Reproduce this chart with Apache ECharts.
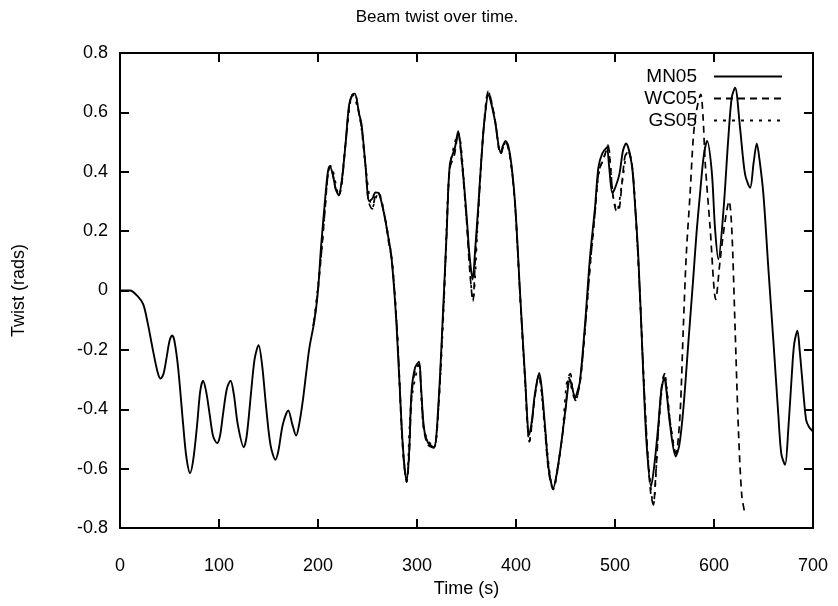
<!DOCTYPE html>
<html>
<head>
<meta charset="utf-8">
<script src="https://cdn.jsdelivr.net/npm/echarts@6/dist/echarts.min.js"></script>
<style>html,body{margin:0;padding:0;background:#fff}#c{width:838px;height:606px}</style>
</head>
<body>
<div id="c"></div>
<script>
// ---- data ----
const chartTitle = "Beam twist over time.";
const xName = "Time (s)";
const yName = "Twist (rads)";
const seriesNames = ["MN05", "WC05", "GS05"];

const mnTime = [0,10,18,23.5,28,33.5,38,41,44,47,50,52.7,55,58.7,63.8,67,70.8,74,77.9,81,83.9,87,90.6,94,98,101,104,108,111.7,115,119,125,128,132.5,136,140,143.5,147.7,152,157,160,164.4,170,174,177.9,181,184.6,188,191.3,196.3,200,203,207,210,212,215,218,220.8,224,228,231.5,235,237.2,241.6,244,248,251.7,255,258,260.8,264,267.5,271,274.3,279.3,284.4,287,289.5,292,294.5,298,302,304,307,311.3,317,321.4,326.5,330,333.2,338.3,341.6,345,350,353,356.2,359,361.8,366.3,369,372,375,378.8,384.5,387,389.5,393.9,398.9,404,409,413.4,416,419,423.5,426,429.2,433,437.6,441,446,450,454.5,457,459.6,462,464.6,469.7,474.7,479.8,483.2,487,491.6,494,497.3,500,504.4,508,511.1,516.9,520,523.6,528.6,532,536.4,540,543.8,547,549.9,552,555.6,561.3,565,569,574,579,582.5,586,589.5,593,597.7,601,604.4,609.5,614.5,617.9,621.3,626.3,631.4,636.5,640,643.2,646,649.9,655,660,665,668,671.8,675,678.6,681,684.3,686.5,688.7,693,696,700];
const mnTwist = [0,0,-0.02,-0.047,-0.11,-0.205,-0.275,-0.297,-0.28,-0.227,-0.17,-0.151,-0.17,-0.26,-0.452,-0.56,-0.615,-0.57,-0.452,-0.34,-0.304,-0.34,-0.418,-0.49,-0.514,-0.49,-0.418,-0.33,-0.304,-0.35,-0.452,-0.528,-0.49,-0.34,-0.23,-0.184,-0.25,-0.396,-0.52,-0.57,-0.54,-0.452,-0.404,-0.45,-0.489,-0.45,-0.373,-0.28,-0.193,-0.103,0,0.144,0.3,0.4,0.419,0.39,0.34,0.322,0.37,0.5,0.627,0.66,0.663,0.594,0.56,0.42,0.301,0.31,0.33,0.329,0.3,0.245,0.18,0.11,-0.115,-0.452,-0.58,-0.641,-0.55,-0.34,-0.26,-0.24,-0.32,-0.463,-0.514,-0.528,-0.396,-0.058,0.2,0.425,0.481,0.537,0.45,0.256,0.12,0.037,0.15,0.279,0.504,0.6,0.659,0.63,0.571,0.464,0.49,0.504,0.459,0.301,-0.002,-0.283,-0.486,-0.44,-0.351,-0.278,-0.33,-0.452,-0.6,-0.666,-0.62,-0.508,-0.4,-0.3,-0.33,-0.362,-0.34,-0.306,-0.115,0.11,0.279,0.414,0.46,0.481,0.42,0.329,0.345,0.391,0.47,0.495,0.425,0.3,0.11,-0.283,-0.52,-0.66,-0.58,-0.452,-0.33,-0.295,-0.34,-0.452,-0.559,-0.52,-0.4,-0.18,0.04,0.2,0.33,0.45,0.504,0.402,0.211,0.105,0.267,0.515,0.65,0.683,0.548,0.391,0.346,0.43,0.495,0.44,0.324,0.07,-0.171,-0.42,-0.55,-0.587,-0.47,-0.283,-0.18,-0.135,-0.2,-0.283,-0.435,-0.46,-0.475];

const wcTime = [195,198,203,207,210,212.5,215,218,221,224,228,231.5,235,237.5,241.6,244,248,251,254.7,258,261,264,268,271,275,280,284.5,287,289.5,292,294.5,298,302,304,307,311,317,321.5,326.5,330,333,338,341.6,345,350,353,356.5,359,362,366,369,372,375,379,384.5,389.5,394,399,404,409,413.5,416,419,423,426,429,433,437.6,441,446,450,453,455,457,460,464.6,470,475,480,483.5,488,491,493,495,498,501.7,504,507,510,513,517,521,525,529,533,536,538.7,541,544,547,550,552,556,561.3,563,566,569,572,575.8,579.1,582,586.6,589,591,596.1,601.8,606.1,611.2,615.2,617.9,621.3,624.6,628,631.4];
const wcTwist = [-0.12,-0.06,0.11,0.27,0.39,0.42,0.39,0.34,0.32,0.36,0.5,0.62,0.66,0.66,0.59,0.55,0.42,0.3,0.275,0.32,0.33,0.3,0.24,0.17,0.09,-0.14,-0.46,-0.59,-0.645,-0.56,-0.36,-0.27,-0.25,-0.33,-0.47,-0.52,-0.53,-0.4,-0.07,0.19,0.41,0.46,0.53,0.44,0.24,0.08,-0.036,0.12,0.27,0.49,0.6,0.672,0.64,0.57,0.46,0.5,0.45,0.29,-0.01,-0.29,-0.51,-0.45,-0.36,-0.285,-0.34,-0.46,-0.61,-0.67,-0.62,-0.51,-0.4,-0.29,-0.28,-0.33,-0.37,-0.31,-0.12,0.09,0.27,0.4,0.44,0.47,0.49,0.43,0.32,0.268,0.27,0.36,0.45,0.47,0.43,0.25,0,-0.3,-0.55,-0.68,-0.722,-0.63,-0.46,-0.33,-0.28,-0.33,-0.45,-0.55,-0.53,-0.4,-0.126,0.12,0.324,0.515,0.6,0.661,0.58,0.436,0.211,-0.03,0.099,0.234,0.301,0.211,-0.126,-0.463,-0.688,-0.755];

const gsTime = [196,203,210,213,221,228,235,242,248,255,261,268,275,280,285,289.5,294,302,307,317,322,327,333,341.6,350,356.5,362,366,372,379,384.5,389.5,394,399,404,409,413.5,419,423,429,437.6,446,453,460,465,470,475,480,484,491,493,498,502,507,513,517,521,525,529,533,538.7,544,550,556,561];
const gsTwist = [-0.1,0.11,0.39,0.42,0.32,0.5,0.66,0.59,0.42,0.28,0.33,0.24,0.09,-0.14,-0.5,-0.645,-0.38,-0.25,-0.47,-0.53,-0.38,-0.06,0.41,0.53,0.24,-0.03,0.27,0.49,0.67,0.57,0.46,0.5,0.45,0.29,-0.01,-0.29,-0.51,-0.36,-0.285,-0.46,-0.67,-0.51,-0.29,-0.37,-0.3,-0.12,0.09,0.27,0.4,0.47,0.49,0.32,0.27,0.36,0.47,0.43,0.25,0,-0.3,-0.55,-0.72,-0.46,-0.28,-0.45,-0.55];

const xTicks = [0, 700, 100];      // min, max, interval
const yTicks = [-0.8, 0.8, 0.2];   // min, max, interval

// ---- chart ----
const pair = (xs, ys) => xs.map((x, i) => [x, ys[i]]);
const FONT = "Liberation Sans, Arial, Helvetica, sans-serif";
const axisLine = { show: true, onZero: false, lineStyle: { color: "#000", width: 2 } };
const axisTick = { show: true, inside: true, length: 9, lineStyle: { color: "#000", width: 2 } };
const yFmt = v => Math.abs(v) < 1e-9 ? "0" : String(parseFloat(v.toFixed(1)));

const chart = echarts.init(document.getElementById("c"), null, { renderer: "canvas" });
chart.setOption({
  animation: false,
  backgroundColor: "#fff",
  title: {
    text: chartTitle, left: 432, top: 4, textAlign: "center",
    textStyle: { fontFamily: FONT, fontSize: 17, fontWeight: "normal", color: "#000" }
  },
  legend: {
    data: seriesNames, orient: "vertical", right: 50, top: 62, align: "right",
    itemWidth: 68, itemHeight: 14, itemGap: 3,
    itemStyle: { color: "transparent", borderColor: "transparent", borderWidth: 0, opacity: 0 },
    textStyle: { fontFamily: FONT, fontSize: 19, color: "#000", padding: [0, 12, 0, 0] }
  },
  grid: { left: 120, right: 25, top: 53, bottom: 78, containLabel: false },
  xAxis: [
    { type: "value", min: xTicks[0], max: xTicks[1], interval: xTicks[2], position: "bottom",
      name: xName, nameLocation: "middle", nameGap: 48,
      nameTextStyle: { fontFamily: FONT, fontSize: 18, color: "#000" },
      axisLine, axisTick, splitLine: { show: false },
      axisLabel: { fontFamily: FONT, fontSize: 18, color: "#000", margin: 29 } },
    { type: "value", min: xTicks[0], max: xTicks[1], interval: xTicks[2], position: "top",
      axisLine, axisTick, splitLine: { show: false }, axisLabel: { show: false } }
  ],
  yAxis: [
    { type: "value", min: yTicks[0], max: yTicks[1], interval: yTicks[2], position: "left",
      name: yName, nameLocation: "middle", nameGap: 92, nameRotate: 90,
      nameTextStyle: { fontFamily: FONT, fontSize: 18, color: "#000" },
      axisLine, axisTick, splitLine: { show: false },
      axisLabel: { fontFamily: FONT, fontSize: 18, color: "#000", margin: 12, formatter: yFmt } },
    { type: "value", min: yTicks[0], max: yTicks[1], interval: yTicks[2], position: "right",
      axisLine, axisTick, splitLine: { show: false }, axisLabel: { show: false } }
  ],
  series: [
    { name: seriesNames[0], type: "line", data: pair(mnTime, mnTwist), symbol: "none", smooth: 0.3,
      lineStyle: { color: "#000", width: 1.9, type: "solid" }, itemStyle: { color: "#000" } },
    { name: seriesNames[1], type: "line", data: pair(wcTime, wcTwist), symbol: "none", smooth: 0.3,
      lineStyle: { color: "#000", width: 1.7, type: [7, 5] }, itemStyle: { color: "#000" } },
    { name: seriesNames[2], type: "line", data: pair(gsTime, gsTwist), symbol: "none", smooth: 0.3,
      lineStyle: { color: "#000", width: 1.7, type: [3, 6] }, itemStyle: { color: "#000" } }
  ]
});
</script>
</body>
</html>
